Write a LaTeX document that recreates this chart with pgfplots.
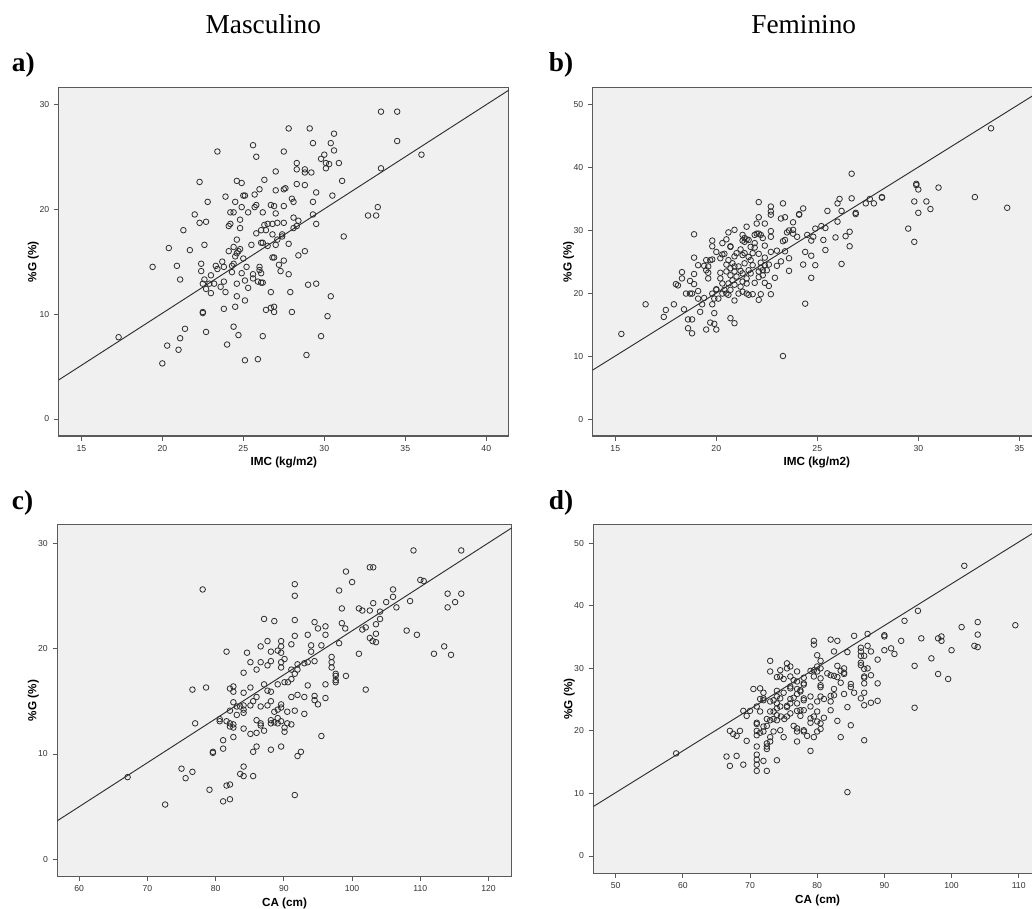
\documentclass[border=0pt]{standalone}
\usepackage{pgfplots}
\pgfplotsset{compat=1.18}
\usepackage{fontspec}
\setmainfont{Liberation Serif}
\newfontfamily\arialf{Liberation Sans}
\definecolor{bgc}{HTML}{F0F0F0}
\definecolor{axc}{HTML}{5A5A5A}
\definecolor{mkc}{HTML}{2E2E2E}
\definecolor{tkc}{HTML}{333333}
\pgfplotsset{
  panel/.style={
    scale only axis, anchor=south west,
    axis background/.style={fill=bgc},
    axis line style={draw=axc, line width=0.8pt},
    tick style={draw=axc, line width=0.6pt},
    tick align=outside, major tick length=3.6pt,
    tick pos=left,
    /pgf/number format/assume math mode=true,
    ticklabel style={font=\arialf\fontsize{6.5}{7.5}\selectfont, text=tkc},
    label style={font=\arialf\bfseries\fontsize{8.8}{10}\selectfont, text=black},
  },
  pts/.style={only marks, mark=o, mark size=2.1pt, mark options={draw=mkc, line width=0.6pt}},
  fit/.style={no marks, draw=mkc, line width=0.7pt},
}
\begin{document}
\begin{tikzpicture}
\path[use as bounding box] (0,0) rectangle (774pt,681.75pt);
\clip (0,0) rectangle (774pt,681.75pt);
\node[anchor=base, font=\fontsize{20.5}{24}\selectfont] at (197.5pt,656.8pt) {Masculino};
\node[anchor=base, font=\fontsize{20.5}{24}\selectfont] at (602.8pt,656.8pt) {Feminino};
\node[anchor=base west, inner sep=0pt, font=\bfseries\fontsize{20.5}{24}\selectfont] at (8.8pt,628pt) {a)};
\node[anchor=base west, inner sep=0pt, font=\bfseries\fontsize{20.5}{24}\selectfont] at (411.5pt,628pt) {b)};
\node[anchor=base west, inner sep=0pt, font=\bfseries\fontsize{20.5}{24}\selectfont] at (8.8pt,299.8pt) {c)};
\node[anchor=base west, inner sep=0pt, font=\bfseries\fontsize{20.5}{24}\selectfont] at (411.5pt,299.8pt) {d)};
% a) Masculino IMC
\begin{axis}[panel, at={(44.0pt,354.75pt)}, width=337.7pt, height=261.5pt,
  xmin=13.6, xmax=41.4, ymin=-1.62, ymax=31.62,
  xtick={15,20,25,30,35,40}, ytick={0,10,20,30},
  xlabel={IMC (kg/m2)}, ylabel={\%G (\%)},
  xlabel style={at={(axis description cs:0.5,-0.0774)}, anchor=center},
  ylabel style={at={(axis description cs:-0.0564,0.5)}, anchor=center}]
\addplot[pts] table[row sep=\\] {
x y\\
33.5 29.3\\ 34.5 29.3\\ 34.5 26.5\\ 36.0 25.2\\ 33.5 23.9\\ 33.3 20.2\\ 32.7 19.4\\ 33.2 19.4\\
31.2 17.4\\ 31.1 22.7\\ 30.9 24.4\\ 30.5 21.3\\ 30.6 27.2\\ 30.4 26.3\\ 30.6 25.6\\ 30.0 25.2\\
29.8 24.8\\ 30.1 24.4\\ 30.3 24.3\\ 30.1 23.9\\ 29.1 27.7\\ 27.8 27.7\\ 29.3 26.3\\ 27.5 25.5\\
28.3 24.4\\ 28.3 23.8\\ 28.8 23.8\\ 28.8 23.5\\ 29.2 23.5\\ 27.0 23.6\\ 28.3 22.4\\ 28.8 22.3\\
29.5 21.6\\ 27.5 21.9\\ 27.6 22.0\\ 27.0 21.8\\ 28.0 21.0\\ 28.1 20.7\\ 29.3 20.7\\ 29.3 19.5\\
29.5 18.6\\ 28.8 16.0\\ 28.4 15.6\\ 28.1 19.2\\ 28.4 18.9\\ 28.3 18.4\\ 28.1 18.2\\ 27.5 20.3\\
26.7 20.4\\ 26.9 20.3\\ 27.0 19.6\\ 26.2 19.7\\ 27.5 18.7\\ 27.1 18.7\\ 26.8 18.6\\ 26.5 18.6\\
26.3 18.5\\ 26.4 18.0\\ 26.1 18.0\\ 25.8 17.7\\ 26.8 17.6\\ 27.4 17.6\\ 27.4 17.4\\ 27.1 17.1\\
27.8 16.7\\ 27.0 16.6\\ 26.5 16.5\\ 26.1 16.8\\ 26.2 16.8\\ 25.5 16.6\\ 24.6 17.1\\ 24.8 18.2\\
24.8 19.0\\ 25.3 19.7\\ 24.9 20.2\\ 24.4 19.7\\ 24.2 19.7\\ 24.2 18.6\\ 24.1 18.4\\ 24.5 20.7\\
23.9 21.2\\ 25.0 21.3\\ 25.1 21.3\\ 25.7 21.4\\ 26.0 21.9\\ 25.8 20.4\\ 25.7 20.2\\ 26.3 22.8\\
24.6 22.7\\ 24.9 22.5\\ 23.4 25.5\\ 25.6 26.1\\ 25.8 25.0\\ 22.3 22.6\\ 22.8 20.7\\ 22.0 19.5\\
22.3 18.7\\ 22.7 18.8\\ 21.3 18.0\\ 21.7 16.1\\ 22.6 16.6\\ 20.4 16.3\\ 19.4 14.5\\ 20.9 14.6\\
21.1 13.3\\ 22.4 14.8\\ 22.4 14.1\\ 22.6 13.3\\ 22.5 12.9\\ 22.7 12.4\\ 22.9 12.9\\ 23.0 13.7\\
23.2 12.9\\ 23.0 12.0\\ 23.3 14.6\\ 23.4 14.3\\ 23.7 15.0\\ 23.8 14.5\\ 23.8 13.1\\ 23.6 12.6\\
23.9 12.1\\ 24.1 16.0\\ 24.4 16.4\\ 24.5 15.5\\ 24.7 16.0\\ 24.6 15.8\\ 24.8 16.2\\ 25.0 15.3\\
24.3 14.6\\ 24.4 14.8\\ 24.3 14.0\\ 24.9 13.9\\ 25.2 14.5\\ 24.6 12.9\\ 25.1 13.2\\ 25.3 12.5\\
25.6 13.8\\ 25.6 13.4\\ 26.0 14.5\\ 26.0 14.2\\ 26.1 13.9\\ 25.9 13.1\\ 26.1 13.0\\ 26.2 13.0\\
27.2 14.7\\ 27.5 15.1\\ 26.8 15.4\\ 26.9 15.4\\ 27.3 14.1\\ 27.8 13.8\\ 26.7 12.1\\ 27.9 12.1\\
29.0 12.8\\ 29.5 12.9\\ 30.4 11.7\\ 30.2 9.8\\ 29.8 7.9\\ 28.9 6.1\\ 28.0 10.2\\ 26.9 10.7\\
26.7 10.6\\ 26.4 10.4\\ 26.9 10.2\\ 24.6 11.7\\ 25.1 11.3\\ 24.5 10.7\\ 23.8 10.5\\ 22.5 10.2\\
22.5 10.1\\ 24.4 8.8\\ 24.7 8.0\\ 24.0 7.1\\ 26.2 7.9\\ 25.9 5.7\\ 25.1 5.6\\ 22.7 8.3\\
21.4 8.6\\ 21.1 7.7\\ 20.3 7.0\\ 21.0 6.6\\ 20.0 5.3\\ 17.3 7.8\\
};
\addplot[fit] coordinates {(13.6,3.72) (41.4,31.36)};
\end{axis}
% b) Feminino IMC
\begin{axis}[panel, at={(444.5pt,354.75pt)}, width=336.2pt, height=261.5pt,
  xmin=13.88, xmax=36.07, ymin=-2.58, ymax=52.7,
  xtick={15,20,25,30,35}, ytick={0,10,20,30,40,50},
  xlabel={IMC (kg/m2)}, ylabel={\%G (\%)},
  xlabel style={at={(axis description cs:0.5,-0.0774)}, anchor=center},
  ylabel style={at={(axis description cs:-0.0535,0.5)}, anchor=center}]
\addplot[pts] table[row sep=\\] {
x y\\
33.6 46.2\\ 26.7 39.0\\ 29.9 37.4\\ 29.9 37.2\\ 30.0 36.5\\ 31.0 36.8\\ 32.8 35.3\\ 34.4 33.6\\
29.8 34.6\\ 30.4 34.6\\ 30.6 33.4\\ 30.0 32.8\\ 29.5 30.3\\ 29.8 28.2\\ 28.2 35.3\\ 28.2 35.2\\
27.6 35.0\\ 27.4 34.3\\ 27.8 34.3\\ 26.7 35.1\\ 26.9 32.8\\ 26.9 32.6\\ 26.1 35.0\\ 26.0 34.3\\
26.2 33.1\\ 25.5 33.1\\ 26.0 31.4\\ 26.6 29.8\\ 26.4 29.1\\ 25.9 28.9\\ 26.6 27.5\\ 26.2 24.7\\
25.4 30.4\\ 25.2 30.7\\ 25.3 28.5\\ 25.4 26.9\\ 24.9 30.3\\ 24.8 29.0\\ 24.5 29.3\\ 24.7 28.4\\
24.7 26.0\\ 24.4 26.6\\ 24.3 24.6\\ 24.9 24.5\\ 24.7 22.5\\ 24.4 18.4\\ 24.3 33.5\\ 24.1 32.6\\
24.1 32.5\\ 23.8 31.3\\ 23.8 30.1\\ 23.8 29.5\\ 24.0 29.0\\ 23.6 30.0\\ 23.5 29.7\\ 23.4 32.1\\
23.2 31.9\\ 23.3 34.3\\ 23.4 28.5\\ 23.3 28.3\\ 23.4 26.7\\ 23.6 25.6\\ 23.6 23.6\\ 23.2 25.1\\
23.0 24.4\\ 23.0 26.8\\ 22.9 22.5\\ 23.3 10.1\\ 22.7 33.8\\ 22.7 33.0\\ 22.7 32.5\\ 22.7 29.9\\
22.7 29.0\\ 22.7 26.6\\ 22.6 24.6\\ 22.6 21.2\\ 22.7 19.9\\ 22.1 34.5\\ 22.1 32.1\\ 22.4 31.1\\
22.0 31.1\\ 22.0 29.5\\ 22.1 29.5\\ 22.2 29.3\\ 22.3 28.8\\ 21.9 29.3\\ 22.4 27.6\\ 21.9 27.3\\
22.1 26.3\\ 22.4 25.7\\ 22.2 24.9\\ 22.4 24.5\\ 22.2 24.1\\ 22.3 23.7\\ 22.1 23.5\\ 22.5 23.7\\
22.3 22.9\\ 22.4 21.7\\ 21.9 21.7\\ 22.2 19.9\\ 22.1 19.0\\ 21.8 19.9\\ 21.5 30.6\\ 21.4 28.8\\
21.5 28.6\\ 21.3 28.4\\ 21.4 28.2\\ 21.6 28.5\\ 21.3 29.3\\ 21.7 27.4\\ 21.9 28.0\\ 21.2 27.0\\
21.3 26.1\\ 21.6 25.8\\ 21.7 25.3\\ 21.8 24.5\\ 21.4 24.8\\ 21.1 24.3\\ 21.6 23.7\\ 21.7 23.2\\
21.3 23.2\\ 21.5 22.4\\ 21.3 21.9\\ 21.5 21.6\\ 21.2 21.1\\ 21.3 20.3\\ 21.5 20.0\\ 21.6 19.8\\
21.1 20.0\\ 20.9 30.1\\ 20.7 27.5\\ 20.7 27.4\\ 20.9 25.9\\ 21.0 26.4\\ 20.8 24.8\\ 20.9 24.3\\
20.6 25.3\\ 20.5 24.6\\ 20.7 24.0\\ 20.9 23.5\\ 20.7 22.9\\ 20.5 23.5\\ 20.8 22.1\\ 20.6 21.6\\
20.9 21.4\\ 20.7 20.6\\ 20.5 20.0\\ 20.6 19.8\\ 20.9 18.9\\ 20.7 16.1\\ 20.9 15.3\\ 20.6 29.7\\
20.5 28.6\\ 20.3 28.0\\ 20.4 26.3\\ 20.3 26.2\\ 20.2 25.6\\ 20.0 26.6\\ 20.2 23.3\\ 20.2 22.4\\
20.3 21.6\\ 20.4 20.6\\ 20.3 20.0\\ 20.0 20.7\\ 20.0 20.6\\ 20.1 19.2\\ 19.9 19.2\\ 19.8 18.3\\
19.8 20.0\\ 19.8 28.4\\ 19.8 27.5\\ 19.8 25.4\\ 19.7 25.3\\ 19.5 25.3\\ 19.6 24.3\\ 19.6 23.3\\
19.6 22.4\\ 19.4 24.4\\ 19.5 23.7\\ 19.4 19.3\\ 19.3 18.3\\ 19.2 17.1\\ 19.9 16.9\\ 19.7 15.4\\
19.9 15.2\\ 19.5 14.3\\ 20.0 14.3\\ 19.1 24.5\\ 18.9 25.7\\ 18.9 29.4\\ 18.9 23.1\\ 18.9 21.5\\
18.7 22.0\\ 19.1 20.4\\ 19.1 19.2\\ 18.8 20.0\\ 18.7 20.0\\ 18.5 20.0\\ 18.3 23.4\\ 18.3 22.4\\
18.0 21.5\\ 18.1 21.3\\ 18.4 17.5\\ 18.6 15.9\\ 18.8 15.9\\ 18.6 14.5\\ 18.8 13.7\\ 17.9 18.3\\
17.5 17.4\\ 17.4 16.3\\ 16.5 18.3\\ 15.3 13.6\\ 21.4 26.4\\ 21.2 23.6\\ 21.8 26.4\\ 22.1 22.6\\
21.0 22.7\\
};
\addplot[fit] coordinates {(13.88,7.87) (36.07,52.17)};
\end{axis}
% c) Masculino CA
\begin{axis}[panel, at={(43.0pt,24.5pt)}, width=340.8pt, height=263.7pt,
  xmin=56.8, xmax=123.4, ymin=-1.61, ymax=31.74,
  xtick={60,70,80,90,100,110,120}, ytick={0,10,20,30},
  xlabel={CA (cm)}, ylabel={\%G (\%)},
  xlabel style={at={(axis description cs:0.5,-0.0768)}, anchor=center},
  ylabel style={at={(axis description cs:-0.0528,0.5)}, anchor=center}]
\addplot[pts] table[row sep=\\] {
x y\\
109.0 29.3\\ 116.0 29.3\\ 102.6 27.7\\ 103.1 27.7\\ 99.1 27.3\\ 100.0 26.3\\ 110.0 26.5\\ 110.5 26.4\\
98.1 25.5\\ 106.0 25.6\\ 106.0 24.9\\ 114.0 25.2\\ 116.0 25.2\\ 115.1 24.4\\ 114.0 23.9\\ 105.0 24.4\\
108.5 24.5\\ 106.5 23.9\\ 103.1 24.3\\ 101.0 23.8\\ 101.5 23.6\\ 102.6 23.6\\ 104.1 23.5\\ 98.5 23.8\\
104.1 22.8\\ 103.5 22.3\\ 102.0 22.0\\ 101.5 21.8\\ 99.0 21.9\\ 98.5 22.4\\ 103.5 21.4\\ 102.6 21.0\\
103.0 20.7\\ 103.5 20.6\\ 108.0 21.7\\ 109.5 21.3\\ 113.5 20.2\\ 112.0 19.5\\ 114.5 19.4\\ 101.0 19.5\\
102.0 16.1\\ 98.1 20.5\\ 97.0 19.2\\ 97.0 18.7\\ 97.0 18.2\\ 97.6 17.6\\ 97.6 17.4\\ 97.6 17.0\\
97.6 16.8\\ 99.1 17.4\\ 96.1 22.1\\ 96.1 21.3\\ 95.0 21.9\\ 94.5 22.5\\ 93.5 21.3\\ 94.0 20.3\\
95.5 20.3\\ 94.0 19.7\\ 94.5 18.8\\ 93.5 18.7\\ 93.0 18.6\\ 92.0 18.5\\ 92.0 18.0\\ 91.1 18.0\\
91.6 17.6\\ 91.1 17.1\\ 90.6 16.8\\ 90.1 16.8\\ 96.1 16.6\\ 93.5 16.5\\ 96.1 15.3\\ 94.5 15.5\\
94.5 15.1\\ 95.0 14.7\\ 93.0 15.4\\ 92.0 15.6\\ 91.1 15.4\\ 91.6 14.1\\ 93.0 13.8\\ 90.5 14.0\\
91.1 12.8\\ 90.5 12.9\\ 95.5 11.7\\ 91.6 26.1\\ 91.6 25.0\\ 91.6 22.7\\ 91.6 21.2\\ 91.1 20.4\\
88.6 22.6\\ 87.1 22.8\\ 87.6 20.7\\ 86.6 20.2\\ 89.6 20.7\\ 89.6 20.2\\ 89.6 19.6\\ 88.1 19.7\\
89.1 19.8\\ 90.1 19.0\\ 89.6 18.7\\ 89.6 18.2\\ 88.1 18.8\\ 87.6 18.4\\ 86.6 18.7\\ 86.0 18.0\\
85.1 18.7\\ 84.6 19.6\\ 81.6 19.7\\ 84.1 17.7\\ 85.1 16.3\\ 84.1 15.8\\ 82.6 16.4\\ 82.1 16.2\\
82.6 15.9\\ 87.1 16.6\\ 87.6 16.0\\ 88.1 15.9\\ 89.1 16.6\\ 86.0 15.4\\ 85.5 15.0\\ 85.1 14.6\\
86.6 14.5\\ 87.6 14.6\\ 88.1 15.0\\ 89.6 14.7\\ 89.6 14.4\\ 89.1 14.2\\ 88.6 14.0\\ 82.6 14.9\\
83.1 14.5\\ 83.6 14.5\\ 84.1 14.6\\ 84.1 14.2\\ 84.1 13.9\\ 83.1 13.7\\ 82.1 14.1\\ 80.6 13.3\\
80.6 13.1\\ 81.6 13.1\\ 82.1 12.9\\ 82.6 12.8\\ 82.1 12.6\\ 82.6 12.5\\ 86.0 13.2\\ 86.6 12.9\\
86.6 12.7\\ 88.1 13.2\\ 88.1 12.9\\ 88.6 13.0\\ 89.1 13.4\\ 89.1 12.9\\ 89.6 13.1\\ 90.1 12.5\\
90.1 12.1\\ 84.1 12.4\\ 85.1 11.9\\ 86.0 12.0\\ 87.1 12.2\\ 82.6 11.6\\ 81.1 11.3\\ 81.1 10.5\\
79.6 10.2\\ 79.6 10.1\\ 86.0 10.7\\ 85.5 10.2\\ 88.1 10.4\\ 89.6 10.7\\ 92.5 10.2\\ 92.0 9.8\\
91.6 6.1\\ 84.1 8.8\\ 83.6 8.1\\ 84.1 7.9\\ 85.5 7.9\\ 82.1 7.1\\ 81.6 7.0\\ 79.1 6.6\\
81.1 5.5\\ 82.1 5.7\\ 72.6 5.2\\ 75.0 8.6\\ 76.6 8.3\\ 75.6 7.7\\ 77.0 12.9\\ 76.6 16.1\\
78.6 16.3\\ 78.1 25.6\\ 67.1 7.8\\
};
\addplot[fit] coordinates {(56.8,3.66) (123.4,31.44)};
\end{axis}
% d) Feminino CA
\begin{axis}[panel, at={(445.0pt,26.8pt)}, width=336.5pt, height=261.45pt,
  xmin=46.67, xmax=113.47, ymin=-2.77, ymax=52.98,
  xtick={50,60,70,80,90,100,110}, ytick={0,10,20,30,40,50},
  xlabel={CA (cm)}, ylabel={\%G (\%)},
  xlabel style={at={(axis description cs:0.5,-0.0786)}, anchor=center},
  ylabel style={at={(axis description cs:-0.0535,0.5)}, anchor=center}]
\addplot[pts] table[row sep=\\] {
x y\\
101.9 46.4\\ 95.0 39.2\\ 93.0 37.6\\ 103.9 37.4\\ 109.5 36.9\\ 101.5 36.6\\ 103.9 35.4\\ 90.0 35.3\\
90.0 35.1\\ 98.5 35.1\\ 95.5 34.8\\ 98.0 34.8\\ 98.5 34.4\\ 92.5 34.4\\ 103.4 33.6\\ 103.9 33.4\\
91.0 33.2\\ 90.0 32.9\\ 91.5 32.3\\ 100.0 32.9\\ 97.0 31.6\\ 94.5 30.4\\ 98.0 29.1\\ 99.5 28.3\\
94.5 23.7\\ 87.5 35.5\\ 85.5 35.2\\ 87.5 33.6\\ 86.5 33.3\\ 86.5 32.7\\ 88.0 32.7\\ 86.5 32.0\\
87.0 32.0\\ 89.0 31.4\\ 86.5 30.9\\ 86.5 30.5\\ 87.5 30.0\\ 87.0 29.9\\ 87.0 28.7\\ 87.0 28.5\\
88.0 28.9\\ 87.0 27.6\\ 89.0 27.6\\ 86.5 25.2\\ 87.0 26.1\\ 87.0 24.1\\ 88.0 24.5\\ 89.0 24.8\\
87.0 18.5\\ 84.5 32.6\\ 84.5 10.2\\ 82.0 34.6\\ 83.0 34.4\\ 82.5 32.7\\ 83.0 30.4\\ 84.0 30.0\\
83.5 29.6\\ 84.0 29.3\\ 84.0 29.1\\ 85.0 27.5\\ 85.0 27.0\\ 85.5 26.1\\ 82.5 28.8\\ 83.0 28.6\\
83.5 27.7\\ 82.5 26.7\\ 82.5 25.7\\ 82.0 25.6\\ 84.0 25.9\\ 81.5 29.2\\ 82.0 28.9\\ 80.5 30.0\\
80.5 31.2\\ 80.0 32.1\\ 80.0 30.3\\ 79.5 34.4\\ 79.5 33.8\\ 79.5 29.7\\ 79.5 28.7\\ 79.0 29.6\\
80.0 29.5\\ 80.5 28.4\\ 80.5 27.3\\ 80.5 27.0\\ 80.5 25.5\\ 81.0 25.1\\ 80.0 24.7\\ 82.0 24.7\\
82.0 23.3\\ 79.0 25.5\\ 79.0 23.9\\ 80.0 23.1\\ 79.5 22.3\\ 79.0 22.0\\ 79.0 21.3\\ 80.0 21.5\\
80.5 21.2\\ 81.0 22.1\\ 80.5 20.3\\ 80.0 19.9\\ 79.5 19.0\\ 78.5 19.2\\ 79.0 16.8\\ 83.0 21.6\\
83.5 19.0\\ 85.0 20.9\\ 84.5 23.8\\ 78.0 28.5\\ 78.0 27.6\\ 78.0 27.4\\ 77.5 26.5\\ 77.0 27.9\\
77.0 29.5\\ 76.5 28.1\\ 76.0 30.3\\ 75.5 30.8\\ 75.5 30.0\\ 76.0 28.7\\ 76.0 27.1\\ 76.0 26.8\\
77.0 26.7\\ 77.5 26.3\\ 77.0 25.9\\ 78.0 25.2\\ 78.0 24.9\\ 76.5 25.3\\ 76.0 25.1\\ 75.5 24.0\\
75.5 23.8\\ 76.0 24.4\\ 77.0 24.4\\ 77.5 23.3\\ 77.0 23.2\\ 76.0 22.8\\ 77.5 22.4\\ 78.0 23.3\\
76.5 20.8\\ 77.0 20.4\\ 77.0 19.9\\ 78.0 20.1\\ 78.0 19.9\\ 77.0 18.3\\ 75.0 19.0\\ 75.5 22.3\\
75.1 21.9\\ 74.6 22.3\\ 75.0 26.1\\ 75.0 28.3\\ 74.5 29.7\\ 74.0 28.6\\ 74.5 28.7\\ 74.0 26.4\\
74.0 25.5\\ 74.5 25.2\\ 73.5 24.9\\ 74.0 24.4\\ 74.5 23.9\\ 74.0 23.6\\ 73.5 23.1\\ 74.0 22.5\\
73.5 21.9\\ 74.0 21.7\\ 73.0 21.7\\ 72.5 21.9\\ 74.5 20.1\\ 73.5 19.9\\ 73.0 19.0\\ 73.0 18.3\\
72.5 18.0\\ 72.5 17.5\\ 72.5 17.1\\ 74.0 15.3\\ 73.0 31.2\\ 73.0 29.5\\ 73.0 24.7\\ 72.0 25.2\\
71.5 26.8\\ 72.0 26.1\\ 71.5 25.1\\ 72.0 24.9\\ 70.5 26.7\\ 71.0 23.9\\ 71.5 23.1\\ 73.0 23.1\\
71.0 21.3\\ 71.0 21.1\\ 72.5 20.8\\ 72.0 20.7\\ 71.5 19.7\\ 71.0 20.0\\ 71.0 19.3\\ 72.0 19.9\\
71.0 17.5\\ 71.0 16.2\\ 71.0 15.4\\ 71.0 14.6\\ 71.0 13.6\\ 72.5 13.6\\ 72.0 15.2\\ 70.0 23.2\\
69.0 23.2\\ 69.5 22.4\\ 68.5 20.0\\ 67.0 20.0\\ 67.5 19.5\\ 68.0 19.2\\ 69.5 18.4\\ 66.5 15.9\\
68.0 16.0\\ 67.0 14.4\\ 69.0 14.6\\ 59.0 16.4\\
};
\addplot[fit] coordinates {(46.67,7.9) (113.47,52.52)};
\end{axis}
\end{tikzpicture}
\end{document}
